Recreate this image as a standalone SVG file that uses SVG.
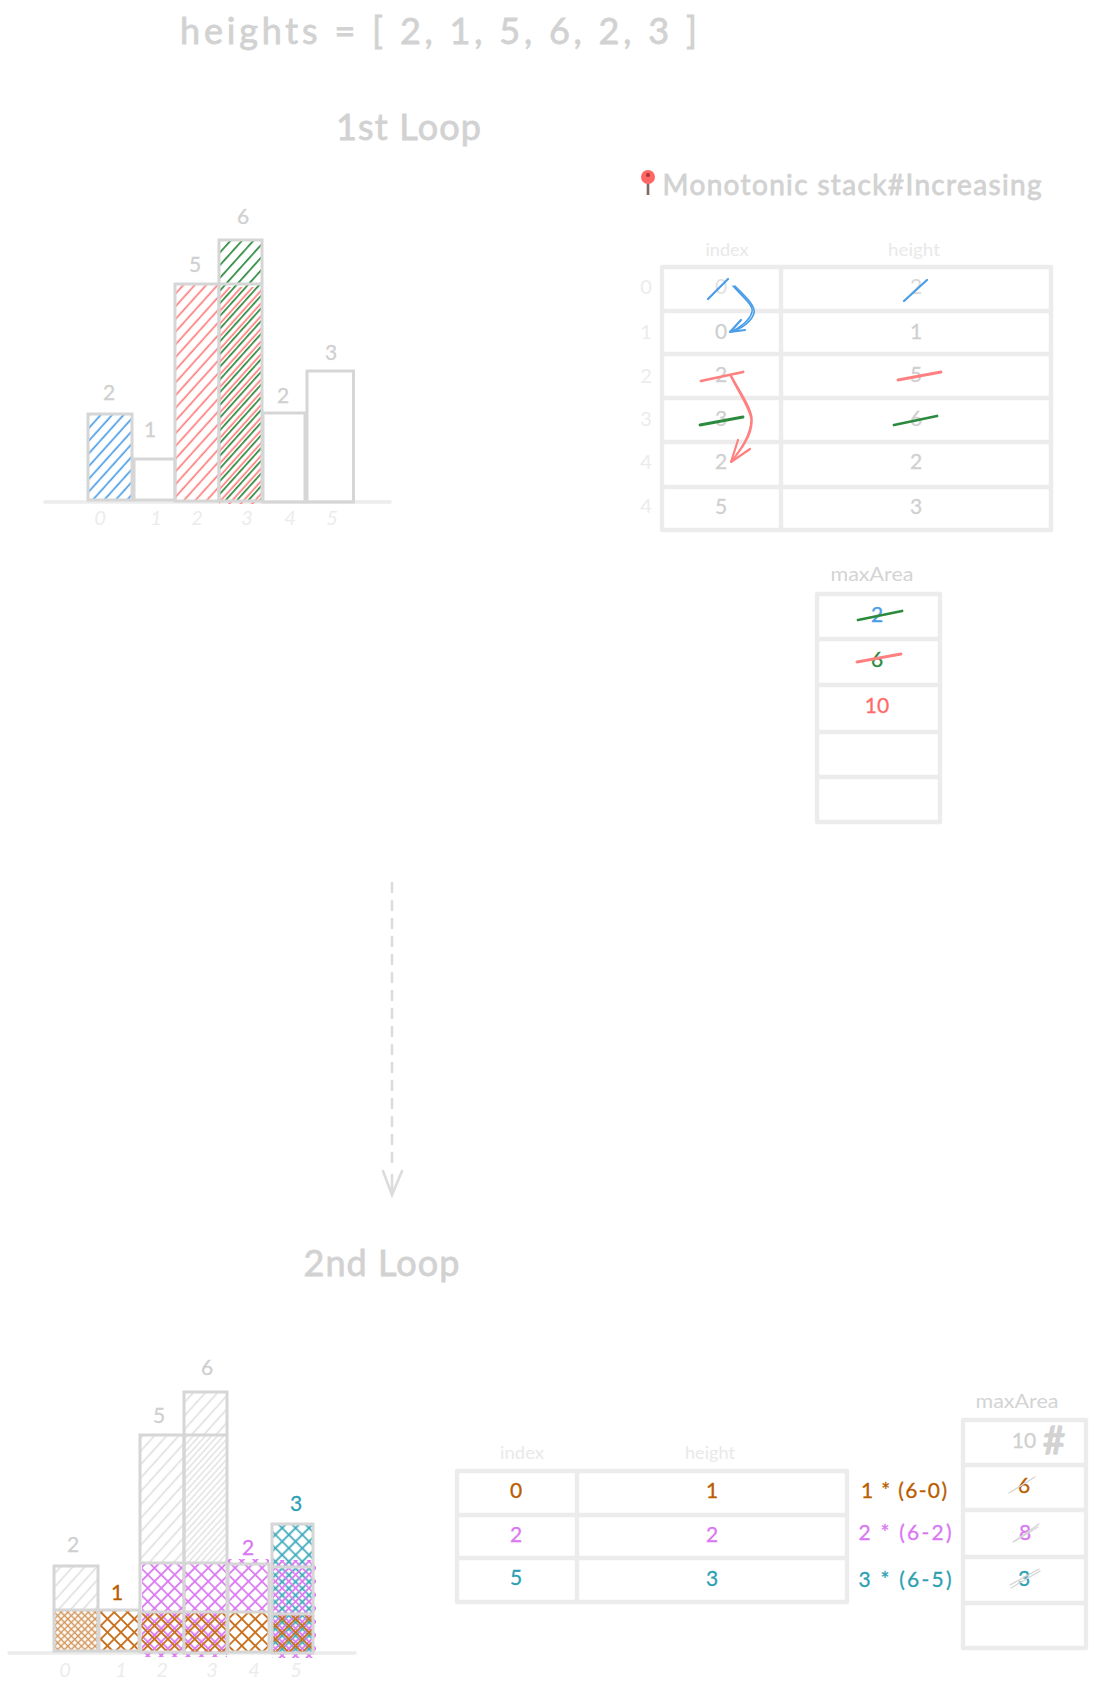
<svg xmlns="http://www.w3.org/2000/svg" width="1095" height="1691" viewBox="0 0 1095 1691">
<style>
text{font-family:"Lato","Noto Sans",sans-serif;text-anchor:middle;dominant-baseline:central}
.n,.a,.h,.m,.o,.p,.c{transform:translate(0,-1.500px)}
.t{fill:#d2d2d2;stroke:#d2d2d2;stroke-width:.8;font-size:36px;dominant-baseline:auto;letter-spacing:1px}
.n{fill:#d0d0d0;font-size:21px;stroke:#d0d0d0;stroke-width:.3}
.a{fill:#ececec;font-size:20px;font-style:italic}
.h{fill:#e9e9e9;font-size:18px}
.m{fill:#d4d4d4;font-size:20px}
.o{fill:#b95d00;stroke:#b95d00;stroke-width:.3;font-size:21px}
.p{fill:#da77f2;stroke:#da77f2;stroke-width:.3;font-size:21px}
.c{fill:#2d9fb3;stroke:#2d9fb3;stroke-width:.3;font-size:21px}
.r{fill:none;stroke:#d6d6d6;stroke-width:3}
.g{fill:none;stroke:#ececec;stroke-width:4.400;stroke-linejoin:round}
.b{stroke:#ececec;stroke-width:3.500;stroke-linecap:round}
.s{fill:none;stroke-width:2.800;stroke-linecap:round;stroke-linejoin:round}
.th{stroke-width:1.600}
.bl{stroke:#4a9de8}.re{stroke:#ff8080}.gr{stroke:#2b8a3e}.gy{stroke:#d4d4d4;stroke-width:1.300}
.d{fill:none;stroke:#dcdcdc;stroke-width:2.600;stroke-linecap:round}
</style>
<defs>
<pattern id="hb" width="8.500" height="8.500" patternUnits="userSpaceOnUse" patternTransform="rotate(42)"><path d="M4 0V8.500" stroke="#4a9de8" stroke-width="1.700"/></pattern>
<pattern id="hr" width="8.500" height="8.500" patternUnits="userSpaceOnUse" patternTransform="rotate(42)"><path d="M4 0V8.500" stroke="#ff7d7d" stroke-width="1.700"/></pattern>
<pattern id="hg" width="8.500" height="8.500" patternUnits="userSpaceOnUse" patternTransform="rotate(42)"><path d="M0.800 0V8.500" stroke="#2b8a3e" stroke-width="1.800"/></pattern>
<pattern id="hy" width="9" height="9" patternUnits="userSpaceOnUse" patternTransform="rotate(42)"><path d="M4.500 0V9" stroke="#dcdcdc" stroke-width="1.500"/></pattern>
<pattern id="hy2" width="4.500" height="4.500" patternUnits="userSpaceOnUse" patternTransform="rotate(42)"><path d="M2 0V4.500" stroke="#dedede" stroke-width="1.300"/></pattern>
<pattern id="xo" width="9.500" height="9.500" patternUnits="userSpaceOnUse" patternTransform="rotate(45)"><path d="M4.700 0V9.500M0 4.700H9.500" stroke="#c9701c" stroke-width="1.800"/></pattern>
<pattern id="xo2" width="4.800" height="4.800" patternUnits="userSpaceOnUse" patternTransform="rotate(45)"><path d="M2.400 0V4.800M0 2.400H4.800" stroke="#d2955a" stroke-width="1.400"/></pattern>
<pattern id="xp" width="9.500" height="9.500" patternUnits="userSpaceOnUse" patternTransform="rotate(45)"><path d="M2 0V9.500M0 2H9.500" stroke="#da77f2" stroke-width="1.800"/></pattern>
<pattern id="xc" width="9.500" height="9.500" patternUnits="userSpaceOnUse" patternTransform="rotate(45)"><path d="M7 0V9.500M0 7H9.500" stroke="#3aa8ba" stroke-width="1.800"/></pattern>
</defs>
<rect width="1095" height="1691" fill="#fff"/>

<g id="titles">
<text class="t" x="439" y="44" textLength="518" lengthAdjust="spacing">heights = [ 2, 1, 5, 6, 2, 3 ]</text>
<text class="t" x="409" y="140" textLength="146" lengthAdjust="spacing">1st Loop</text>
<text class="t" x="382" y="1276" textLength="157" lengthAdjust="spacing">2nd Loop</text>
</g>

<g id="chart1">
<path class="b" d="M45 502H390"/>
<g id="c1-bar0"><rect x="88" y="414" width="44" height="86" fill="url(#hb)"/><rect class="r" x="88" y="414" width="44" height="86"/><text class="n" x="109" y="393">2</text><text class="a" x="100" y="518">0</text></g>
<g id="c1-bar1"><rect class="r" x="134" y="459" width="41" height="41"/><text class="n" x="150" y="430">1</text><text class="a" x="156" y="518">1</text></g>
<g id="c1-bar2"><rect x="175" y="284" width="44" height="217" fill="url(#hr)"/><rect class="r" x="175" y="284" width="44" height="217"/><text class="n" x="195" y="265">5</text><text class="a" x="197" y="518">2</text></g>
<g id="c1-bar3"><rect x="219" y="284" width="43" height="217" fill="url(#hr)" transform="translate(0 3)"/><rect x="219" y="240" width="43" height="261" fill="url(#hg)"/><rect class="r" x="219" y="240" width="43" height="261"/><path class="r" d="M219 284H262"/><text class="n" x="243" y="217">6</text><text class="a" x="247" y="518">3</text></g>
<g id="c1-bar4"><rect class="r" x="263" y="413" width="42" height="89"/><text class="n" x="283" y="396">2</text><text class="a" x="290" y="518">4</text></g>
<g id="c1-bar5"><rect class="r" x="307" y="371" width="46.500" height="131"/><text class="n" x="331" y="353">3</text><text class="a" x="332" y="518">5</text></g>
</g>

<g id="pin"><path d="M648 182V195" stroke="#7a6a60" stroke-width="2.600" fill="none"/><circle cx="648" cy="177" r="7" fill="#f66"/><circle cx="648" cy="175" r="2" fill="#a33"/></g>
<text class="t" style="font-size:28px;letter-spacing:0" x="852" y="195" textLength="379" lengthAdjust="spacing">Monotonic stack#Increasing</text>

<g id="stack1">
<text class="h" x="727" y="250" textLength="43" lengthAdjust="spacingAndGlyphs">index</text>
<text class="h" x="914" y="250" textLength="52" lengthAdjust="spacingAndGlyphs">height</text>
<rect class="g" x="662" y="267" width="389" height="263"/>
<path class="g" d="M662 311H1051M662 354H1051M662 398H1051M662 442H1051M662 487H1051M781 267V530"/>
<g id="row0"><text class="a" x="646" y="287" style="font-style:normal">0</text><text class="n" x="721" y="287" style="fill:#e2e2e2;stroke:none">0</text><text class="n" x="916" y="287" style="fill:#d8d8d8;stroke:none">2</text></g>
<g id="row1"><text class="a" x="646" y="332" style="font-style:normal">1</text><text class="n" x="721" y="332">0</text><text class="n" x="916" y="332">1</text></g>
<g id="row2"><text class="a" x="646" y="376" style="font-style:normal">2</text><text class="n" x="721" y="375">2</text><text class="n" x="916" y="375">5</text></g>
<g id="row3"><text class="a" x="646" y="419" style="font-style:normal">3</text><text class="n" x="721" y="419">3</text><text class="n" x="916" y="419">6</text></g>
<g id="row4"><text class="a" x="646" y="462" style="font-style:normal">4</text><text class="n" x="721" y="462">2</text><text class="n" x="916" y="462">2</text></g>
<g id="row5"><text class="a" x="646" y="506" style="font-style:normal">4</text><text class="n" x="721" y="507">5</text><text class="n" x="916" y="507">3</text></g>
</g>

<g id="maxarea1">
<text class="m" x="872" y="574" textLength="83" lengthAdjust="spacingAndGlyphs">maxArea</text>
<rect class="g" x="817" y="594" width="123" height="228"/>
<path class="g" d="M817 639H940M817 685H940M817 732H940M817 777H940"/>
<text class="n" x="877" y="615" style="fill:#4a9de8;stroke:#4a9de8">2</text>
<text class="n" x="877" y="660" style="fill:#2b8a3e;stroke:#2b8a3e">6</text>
<text class="n" x="877" y="706" style="fill:#ff6b6b;stroke:#ff6b6b">10</text>
</g>

<g id="strikes">
<path class="s bl" style="stroke-width:2.200" d="M708 299L728 279M904 301L927 280"/>
<path class="s re" d="M701 381L743 372M898 380L941 372M857 662L901 654"/>
<path class="s gr" d="M700 425L743 417M894 425L937 416M858 620L902 611"/>
</g>

<g id="chart2">
<path class="b" d="M9 1653H355"/>
<g id="c2-bar0"><rect x="54" y="1566" width="44" height="44" fill="url(#hy)"/><rect x="54" y="1610" width="44" height="41" fill="url(#xo2)"/><rect class="r" x="54" y="1566" width="44" height="85"/><path class="r" d="M54 1610H98"/><text class="n" x="73" y="1545">2</text><text class="a" x="65" y="1670">0</text></g>
<g id="c2-bar1"><rect x="99" y="1610" width="40" height="41" fill="url(#xo)"/><rect class="r" x="99" y="1610" width="40" height="41"/><text class="o" x="117" y="1593">1</text><text class="a" x="121" y="1670">1</text></g>
<g id="c2-bar2"><rect x="140" y="1435" width="44" height="128" fill="url(#hy)"/><rect x="142" y="1563" width="42" height="94" fill="url(#xp)"/><rect x="140" y="1612" width="44" height="40" fill="url(#xo)"/><rect class="r" x="140" y="1435" width="44" height="217"/><path class="r" d="M140 1563H184M140 1612H184"/><text class="n" x="159" y="1416">5</text><text class="a" x="162" y="1670">2</text></g>
<g id="c2-bar3"><rect x="184" y="1392" width="43" height="43" fill="url(#hy)"/><rect x="184" y="1435" width="43" height="128" fill="url(#hy2)"/><rect x="184" y="1563" width="43" height="94" fill="url(#xp)"/><rect x="184" y="1612" width="43" height="41" fill="url(#xo)"/><rect class="r" x="184" y="1392" width="43" height="261"/><path class="r" d="M184 1435H227M184 1563H227M184 1612H227"/><text class="n" x="207" y="1368">6</text><text class="a" x="212" y="1670">3</text></g>
<g id="c2-bar4"><rect x="228" y="1559" width="41" height="53" fill="url(#xp)"/><rect x="228" y="1612" width="41" height="40" fill="url(#xo)"/><rect class="r" x="228" y="1564" width="41" height="88"/><path class="r" d="M228 1612H269"/><text class="p" x="248" y="1548">2</text><text class="a" x="254" y="1670">4</text></g>
<g id="c2-bar5"><rect x="272" y="1524" width="41" height="129" fill="url(#xc)"/><rect x="272" y="1560" width="44" height="98" fill="url(#xp)"/><rect x="272" y="1614" width="41" height="39" fill="url(#xo)"/><rect class="r" x="272" y="1524" width="41" height="129"/><path class="r" d="M272 1567H313M272 1614H313"/><text class="c" x="296" y="1504">3</text><text class="a" x="296" y="1670">5</text></g>
</g>

<g id="stack2">
<text class="h" x="522" y="1453" textLength="44" lengthAdjust="spacingAndGlyphs">index</text>
<text class="h" x="710" y="1453" textLength="50" lengthAdjust="spacingAndGlyphs">height</text>
<rect class="g" x="457" y="1471" width="390" height="131"/>
<path class="g" d="M457 1515H847M457 1558H847M577 1471V1602"/>
<g id="s2-row0"><text class="o" x="516" y="1491">0</text><text class="o" x="712" y="1491">1</text><text class="o" x="904" y="1491" textLength="86" lengthAdjust="spacing">1 * (6-0)</text></g>
<g id="s2-row1"><text class="p" x="516" y="1535">2</text><text class="p" x="712" y="1535">2</text><text class="p" x="905" y="1533" textLength="93" lengthAdjust="spacing">2 * (6-2)</text></g>
<g id="s2-row2"><text class="c" x="516" y="1578">5</text><text class="c" x="712" y="1579">3</text><text class="c" x="905" y="1580" textLength="93" lengthAdjust="spacing">3 * (6-5)</text></g>
</g>

<g id="maxarea2">
<text class="m" x="1017" y="1401" textLength="83" lengthAdjust="spacingAndGlyphs">maxArea</text>
<rect class="g" x="963" y="1420" width="123" height="228"/>
<path class="g" d="M963 1465H1086M963 1510H1086M963 1557H1086M963 1603H1086"/>
<text class="n" x="1024" y="1441">10</text>
<text class="t" style="font-size:38px;dominant-baseline:central;letter-spacing:0;stroke-width:1.600" x="1054" y="1439">#</text>
<text class="o" x="1024" y="1486">6</text><text class="p" x="1025" y="1533">8</text><text class="c" x="1024" y="1579">3</text>
<path class="s gy" d="M1009 1493L1035 1477M1013 1542L1039 1524M1015 1541L1038 1527M1010 1585L1039 1569M1011 1588L1040 1571"/>
</g>

<g id="connectors">
<path class="s bl th" d="M733 286C743 297 754 306 752 312C750 320 740 328 730 332M735 286C745 296 756 306 754 313C752 321 742 329 730 332"/>
<path class="s bl" style="stroke-width:2.200" d="M741 320L730 332L745 330"/>
<path class="s re th" d="M730 375C738 392 751 410 751 420C751 435 740 450 731 462M731 375C740 392 753 410 752 421C752 436 741 450 731 462"/>
<path class="s re" style="stroke-width:2.200" d="M738 440L731 462L750 449"/>
<path class="d" stroke-dasharray="9 9" d="M392 883V1170"/>
<path class="d" d="M392 1195V1175M383 1171L392 1195L402 1171"/>
</g>
</svg>
